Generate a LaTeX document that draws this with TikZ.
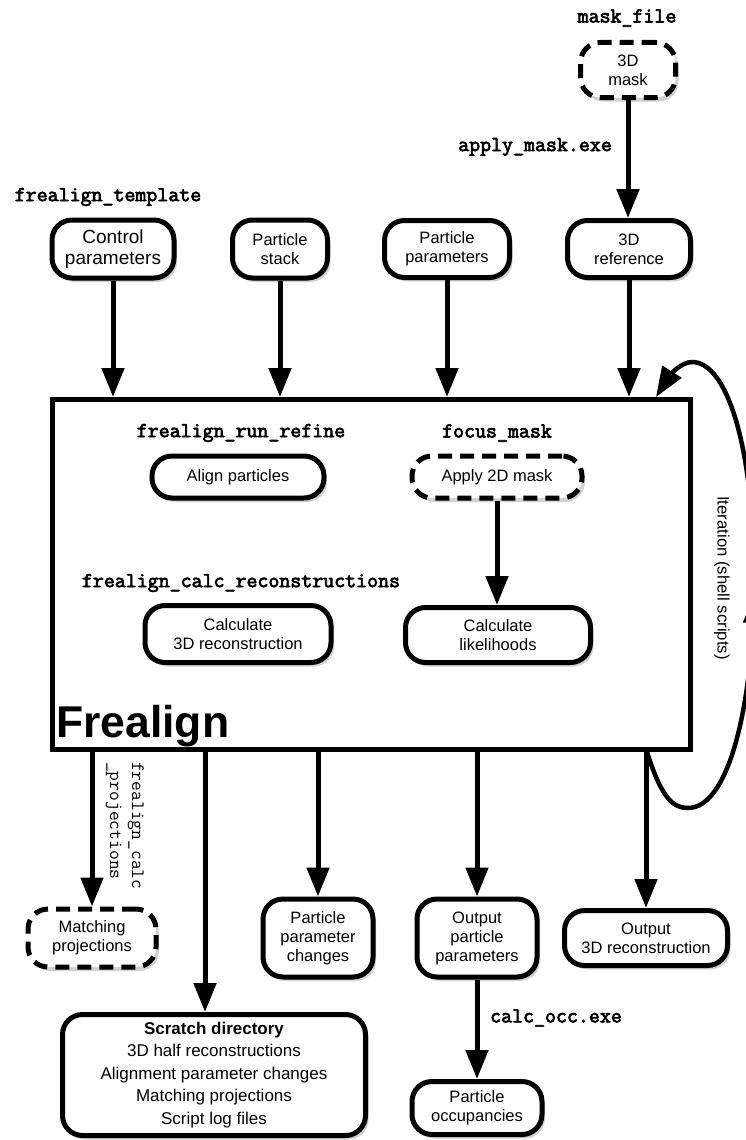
\documentclass[tikz,border=0pt]{standalone}
\usepackage{fontspec}
\setmainfont{Liberation Sans}
\newfontfamily\courb{Latin Modern Mono}[AutoFakeBold=3.2]
\usetikzlibrary{arrows.meta,shadows,decorations.markings}
\begin{document}
\begin{tikzpicture}[x=1pt,y=-1pt,
  box/.style={draw=black, line width=5pt, fill=white, rounded corners=20pt, align=center, inner sep=2pt,
    font=\fontsize{16.5}{19}\selectfont,
    drop shadow={shadow xshift=3pt,shadow yshift=-4pt,opacity=0.18,fill=black}},
  dbox/.style={box, dash pattern=on 14pt off 8pt},
  lbl/.style={font=\courb\bfseries\fontsize{21.3}{23}\selectfont, inner sep=0pt},
  arr/.style={line width=5pt, -{Triangle[length=29pt,width=22pt]}},
]
\fill[white] (0,0) rectangle (746,1140);
\useasboundingbox (0,0) rectangle (746,1140);

% main box
\node[draw, line width=5pt, minimum width=638pt, minimum height=350pt, inner sep=0pt] (frealign) at (371.5,574.5) {};
\node[anchor=base west, inner sep=0pt, font=\bfseries\fontsize{44.5}{50}\selectfont] (ltitle) at (56,737) {Frealign};

% top nodes
\node[dbox, minimum width=95pt, minimum height=55pt] (mask) at (628,70) {3D\\mask};
\node[box, minimum width=122pt, minimum height=58pt, font=\fontsize{19}{21}\selectfont] (ctrl) at (113,249) {Control\\parameters};
\node[box, minimum width=95pt, minimum height=58pt] (stack) at (280,249) {Particle\\stack};
\node[box, minimum width=125pt, minimum height=57pt] (ppar) at (447,249) {Particle\\parameters};
\node[box, minimum width=123pt, minimum height=57pt] (ref3d) at (629,249) {3D\\reference};

% inner nodes
\node[box, minimum width=172pt, minimum height=42pt] (align) at (238,477) {Align particles};
\node[dbox, minimum width=170pt, minimum height=42pt] (apply2d) at (497,477) {Apply 2D mask};
\node[box, minimum width=186pt, minimum height=57pt] (calc3d) at (238,634) {Calculate\\3D reconstruction};
\node[box, minimum width=185pt, minimum height=55pt] (calclik) at (498,635) {Calculate\\likelihoods};

% bottom nodes
\node[dbox, minimum width=128pt, minimum height=58pt] (matchp) at (92,938) {Matching\\projections};
\node[box, minimum width=110pt, minimum height=78pt] (ppchg) at (318,938) {Particle\\parameter\\changes};
\node[box, minimum width=120pt, minimum height=78pt] (outpp) at (477,938) {Output\\particle\\parameters};
\node[box, minimum width=163pt, minimum height=55pt] (out3d) at (646,938) {Output\\3D reconstruction};
\node[box, minimum width=303pt, minimum height=121pt, font=\fontsize{17}{22.5}\selectfont] (scratch) at (214,1075)
  {\textbf{Scratch directory}\\3D half reconstructions\\Alignment parameter changes\\Matching projections\\Script log files};
\node[box, minimum width=130pt, minimum height=53pt] (occ) at (477,1108) {Particle\\occupancies};

% labels
\node[lbl] (lmask) at (627,18) {mask\_file};
\node[lbl] (lapply) at (535,147) {apply\_mask.exe};
\node[lbl] (ltempl) at (108,197) {frealign\_template};
\node[lbl] (lrun) at (241,433) {frealign\_run\_refine};
\node[lbl] (lfocus) at (497,433) {focus\_mask};
\node[lbl] (lcalc) at (241,583) {frealign\_calc\_reconstructions};
\node[lbl] (locc) at (556,1018) {calc\_occ.exe};
\node[font=\ttfamily\fontsize{19}{22}\selectfont, rotate=-90, anchor=north west, align=left, inner sep=0pt] (lproj) at (144,762) {frealign\_calc\\\_projections};
\node[font=\fontsize{16.7}{19}\selectfont, rotate=-90] (liter) at (722,578) {Iteration (shell scripts)};

% arrows
\draw[arr] (mask.south) -- (mask.south |- ref3d.north);
\draw[arr] (ctrl.south) -- (ctrl.south |- frealign.north);
\draw[arr] (stack.south) -- (stack.south |- frealign.north);
\draw[arr] (ppar.south) -- (ppar.south |- frealign.north);
\draw[arr] (ref3d.south) -- (ref3d.south |- frealign.north);
\draw[arr] (apply2d.south) -- (apply2d.south |- calclik.north);
\draw[arr] (matchp.north |- frealign.south) -- (matchp.north);
\coordinate (sin) at ([xshift=-9pt]scratch.north);
\draw[arr] (sin |- frealign.south) -- (sin);
\draw[arr] (ppchg.north |- frealign.south) -- (ppchg.north);
\draw[arr] (outpp.north |- frealign.south) -- (outpp.north);
\draw[arr] (out3d.north |- frealign.south) -- (out3d.north);
\draw[arr] (outpp.south) -- (outpp.south |- occ.north);

% iteration loop
\coordinate (lstart) at (647,752);
\coordinate (lend) at (656,397);
\draw[line width=4.5pt, -{Triangle[length=30pt,width=22pt]},
  postaction={decorate},
  decoration={markings, mark=at position 0.5 with {\arrow{Triangle[length=26pt,width=20pt]}}}]
  (lstart) .. controls (662,800) and (674,808) .. (688,808)
  .. controls (730,808) and (754,700) .. (754,580)
  .. controls (754,450) and (728,362) .. (692,362)
  .. controls (680,362) and (668,378) .. (lend);
\end{tikzpicture}
\end{document}
